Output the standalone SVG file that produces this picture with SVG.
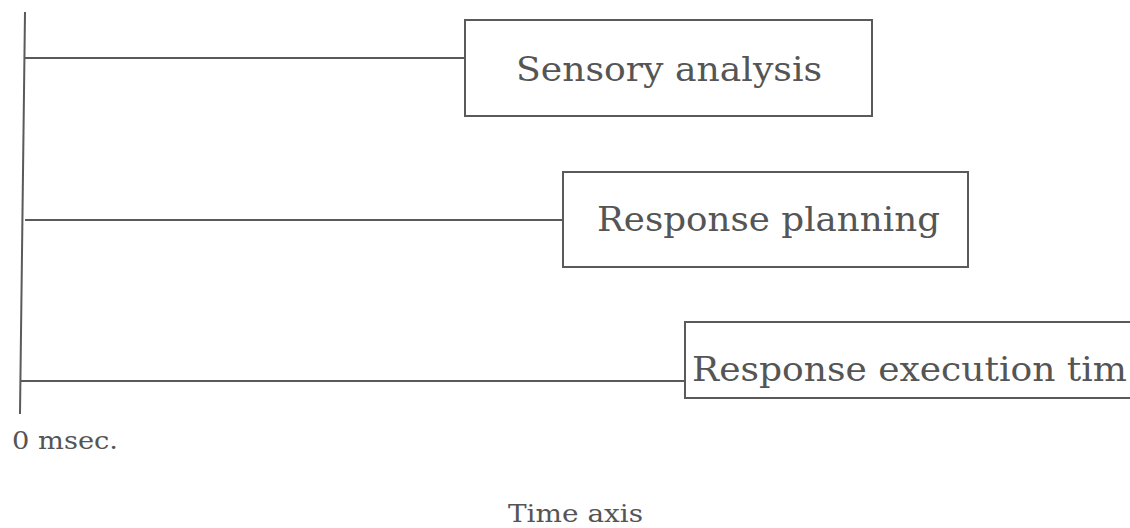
<svg xmlns="http://www.w3.org/2000/svg" width="1130" height="528" viewBox="0 0 1130 528">
  <style>
    .ln { stroke: #5a5a5a; stroke-width: 2; fill: none; }
    .box { stroke: #5a5a5a; stroke-width: 2; fill: #ffffff; }
    .lbl { font-family: "DejaVu Serif", "Liberation Serif", serif; fill: #555555; font-size: 34px; }
    .sm { font-family: "DejaVu Serif", "Liberation Serif", serif; fill: #555555; font-size: 24px; }
  </style>
  <rect width="1130" height="528" fill="#ffffff"/>
  <g id="connectors">
    <line class="ln" x1="25" y1="12" x2="20" y2="414"/>
    <line class="ln" x1="24" y1="58" x2="465" y2="58"/>
    <line class="ln" x1="25" y1="220" x2="563" y2="220"/>
    <line class="ln" x1="21" y1="381" x2="685" y2="381"/>
  </g>
  <g id="sensory-analysis">
    <rect class="box" x="465" y="20" width="407" height="96"/>
    <text class="lbl" x="516" y="81" textLength="306" lengthAdjust="spacingAndGlyphs">Sensory analysis</text>
  </g>
  <g id="response-planning">
    <rect class="box" x="563" y="172" width="405" height="95"/>
    <text class="lbl" x="597" y="231" textLength="343" lengthAdjust="spacingAndGlyphs">Response planning</text>
  </g>
  <g id="response-execution">
    <rect class="box" x="685" y="322" width="460" height="76"/>
    <text class="lbl" x="692" y="381" textLength="435" lengthAdjust="spacingAndGlyphs">Response execution tim</text>
  </g>
  <g id="zero-label">
    <text class="sm" x="12" y="449" textLength="106" lengthAdjust="spacingAndGlyphs">0 msec.</text>
  </g>
  <g id="axis-label">
    <text class="sm" x="508" y="522" textLength="135" lengthAdjust="spacingAndGlyphs">Time axis</text>
  </g>
</svg>
